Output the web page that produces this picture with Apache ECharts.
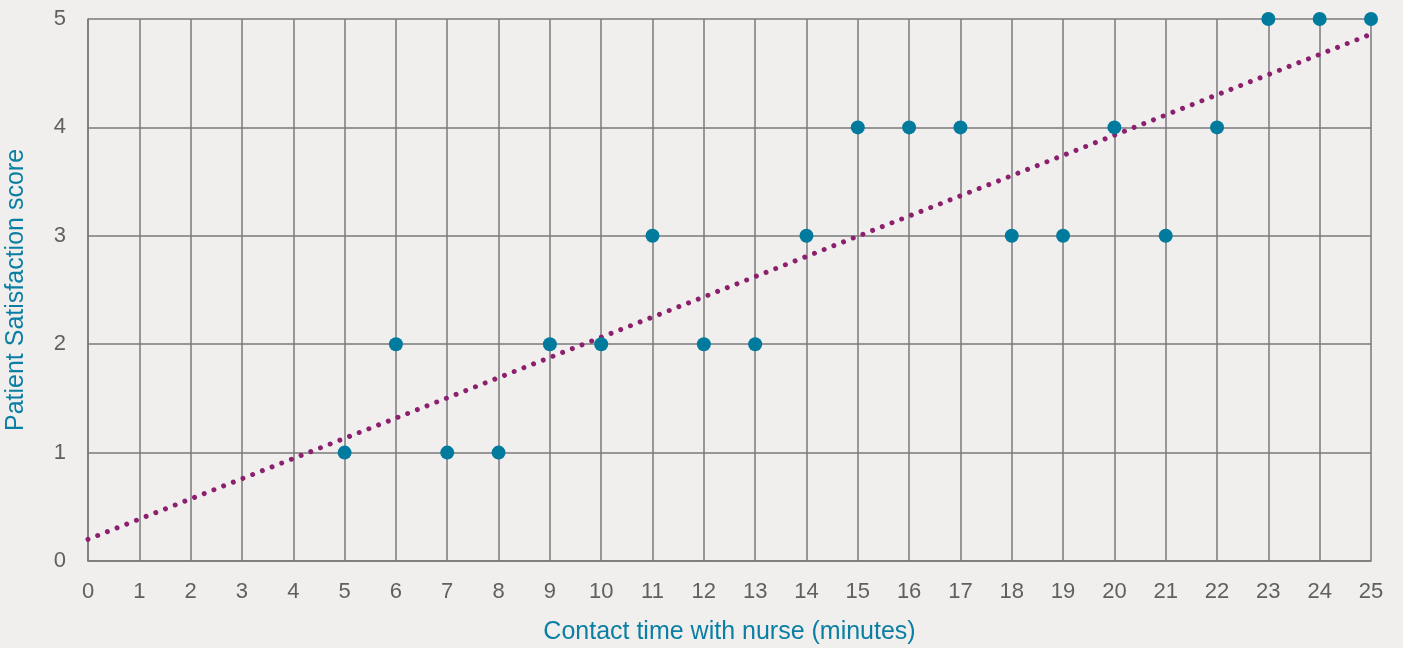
<!DOCTYPE html>
<html><head><meta charset="utf-8">
<script src="https://cdn.jsdelivr.net/npm/echarts@6/dist/echarts.min.js"></script>
<style>html,body{margin:0;padding:0;background:#f0efee;}#c{width:1403px;height:648px;}</style>
</head><body><div id="c"></div>
<script>
const contactMinutes = [5, 6, 7, 8, 9, 10, 11, 12, 13, 14, 15, 16, 17, 18, 19, 20, 21, 22, 23, 24, 25];
const satisfactionScores = [1, 2, 1, 1, 2, 2, 3, 2, 2, 3, 4, 4, 4, 3, 3, 4, 3, 4, 5, 5, 5];
const trendX = [0, 25];
const trendY = [0.2, 4.86];
const xAxisTitle = 'Contact time with nurse (minutes)';
const yAxisTitle = 'Patient Satisfaction score';

const FONT = "'Liberation Sans', Arial, sans-serif";
const chart = echarts.init(document.getElementById('c'), null, {renderer: 'canvas'});
chart.setOption({
  backgroundColor: '#f0efee',
  animation: false,
  grid: {left: 88, right: 32, top: 19, bottom: 87, outerBoundsMode: 'none', containLabel: false},
  xAxis: {
    type: 'value', min: 0, max: 25, interval: 1,
    name: xAxisTitle, nameLocation: 'middle', nameGap: 59,
    nameTextStyle: {color: '#0b7fa3', fontSize: 25, fontFamily: FONT},
    axisLine: {show: true, lineStyle: {color: '#7a7a7a', width: 1.5}},
    axisTick: {show: false},
    axisLabel: {color: '#606060', fontSize: 22, fontFamily: FONT, margin: 20},
    splitLine: {show: true, lineStyle: {color: '#7a7a7a', width: 1.5}}
  },
  yAxis: {
    type: 'value', min: 0, max: 5, interval: 1,
    name: yAxisTitle, nameLocation: 'middle', nameGap: 59,
    nameTextStyle: {color: '#0b7fa3', fontSize: 25, fontFamily: FONT},
    axisLine: {show: true, lineStyle: {color: '#7a7a7a', width: 1.5}},
    axisTick: {show: false},
    axisLabel: {color: '#606060', fontSize: 22, fontFamily: FONT, margin: 22},
    splitLine: {show: true, lineStyle: {color: '#7a7a7a', width: 1.5}}
  },
  series: [
    {
      type: 'line',
      data: trendX.map((x, i) => [x, trendY[i]]),
      showSymbol: false, symbol: 'none',
      lineStyle: {color: '#8c1f6e', width: 5, type: [0.01, 10.4], cap: 'round'},
      z: 3
    },
    {
      type: 'scatter',
      data: contactMinutes.map((x, i) => [x, satisfactionScores[i]]),
      symbol: 'circle', symbolSize: 14,
      itemStyle: {color: '#007b9e', opacity: 1},
      z: 4
    }
  ]
});
</script></body></html>
